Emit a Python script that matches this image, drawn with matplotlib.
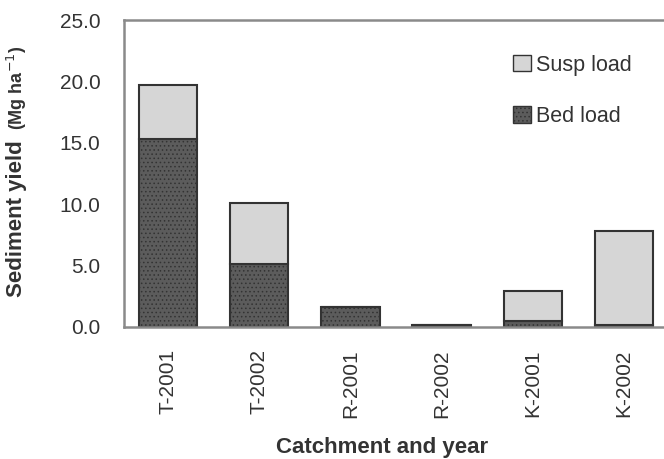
import numpy as np
import matplotlib
matplotlib.use('Agg')
import matplotlib.pyplot as plt
from matplotlib.patches import Patch

plt.rcParams['font.family'] = ['Liberation Sans', 'DejaVu Sans']
plt.rcParams['hatch.linewidth'] = 0.6

# Sediment yield (Mg ha-1) per catchment and year
labels = ['T-2001', 'T-2002', 'R-2001', 'R-2002', 'K-2001', 'K-2002']
bed_load = [15.3, 5.1, 1.6, 0.15, 0.5, 0.15]
susp_load = [4.4, 5.0, 0.0, 0.0, 2.4, 7.65]
yticks = [0, 5, 10, 15, 20, 25]

x = np.arange(len(labels))

fig = plt.figure(figsize=(6.64, 4.59), dpi=100)
ax = fig.add_axes([124/664, 1 - 327/459, 544/664, 307/459])

edge = '#333333'
ax.bar(x, bed_load, width=0.64, color='#5c5c5c', edgecolor=edge,
       hatch='....', linewidth=1.5, zorder=2)
ax.bar(x, susp_load, width=0.64, bottom=bed_load, color='#d6d6d6',
       edgecolor=edge, linewidth=1.5, zorder=2)

ax.set_xlim(-0.48, 5.48)
ax.set_ylim(0, 25)
ax.set_yticks(yticks)
ax.set_yticklabels(['%.1f' % v for v in yticks])
ax.set_xticks(x)
ax.set_xticklabels(labels, rotation=90)
ax.tick_params(axis='y', length=0, pad=17, labelsize=15, labelcolor='#333333')
ax.tick_params(axis='x', length=0, pad=16, labelsize=15, labelcolor='#333333')

for side in ['left', 'bottom', 'top']:
    ax.spines[side].set_color('#8a8a8a')
    ax.spines[side].set_linewidth(1.8)
ax.spines['right'].set_visible(False)

handles = [Patch(facecolor='#d6d6d6', edgecolor=edge, label='Susp load'),
           Patch(facecolor='#5c5c5c', edgecolor=edge, hatch='....', label='Bed load')]
ax.legend(handles=handles, loc='upper left', bbox_to_anchor=(0.68, 0.95),
          frameon=False, fontsize=15.5, handlelength=0.8, handleheight=0.8,
          handletextpad=0.25, labelspacing=1.4, labelcolor='#333333')

fig.text(17/664, 1 - 297/459, 'Sediment yield', rotation=90, ha='center',
         va='bottom', fontsize=16, fontweight='bold', color='#333333')
fig.text(17/664, 1 - 130/459, r'(Mg ha$^{-1}$)', rotation=90, ha='center',
         va='bottom', fontsize=13, fontweight='bold', color='#333333')
fig.text(382/664, 1 - 447/459, 'Catchment and year', ha='center', va='center',
         fontsize=16, fontweight='bold', color='#333333')

fig.savefig('out.png', dpi=100)
